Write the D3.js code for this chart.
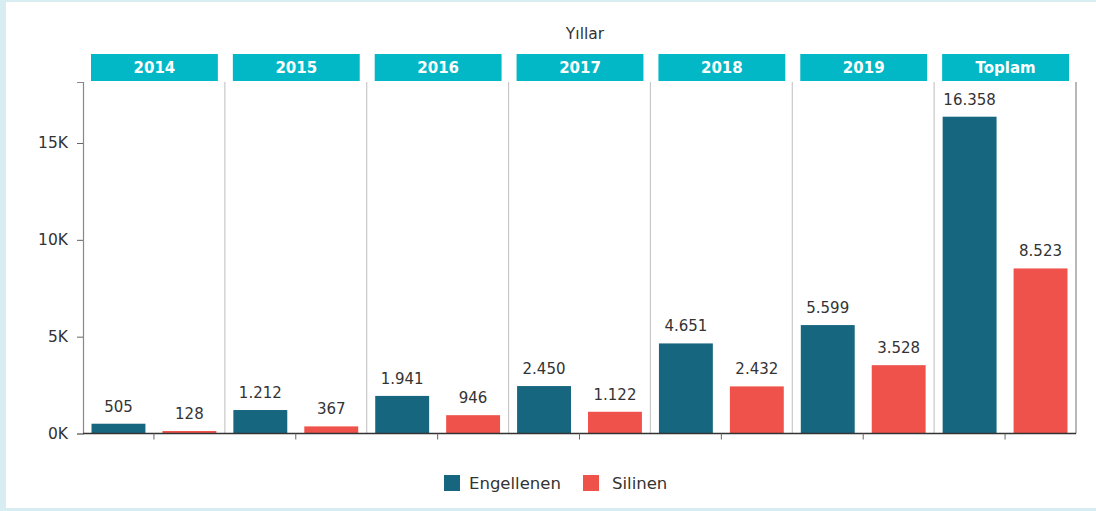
<!DOCTYPE html>
<html>
<head>
<meta charset="utf-8">
<script src="https://cdn.jsdelivr.net/npm/d3@7"></script>
<style>
  html, body { margin: 0; padding: 0; background: #fff; }
  body { width: 1096px; height: 511px; overflow: hidden; }
  text { font-family: "DejaVu Sans", sans-serif; }
</style>
</head>
<body>
<div id="chart"></div>
<script>
const years = ["2014", "2015", "2016", "2017", "2018", "2019", "Toplam"];
const seriesNames = ["Engellenen", "Silinen"];
const engellenen = [505, 1212, 1941, 2450, 4651, 5599, 16358];
const silinen = [128, 367, 946, 1122, 2432, 3528, 8523];
const yTicks = [0, 5000, 10000, 15000];
const colors = ["#176680", "#ef524b"];

const width = 1096, height = 511;
const margin = { top: 82, left: 83, right: 20, bottom: 78 };
const plotRight = 1076, plotBottom = 433.5;

const svg = d3.select("#chart").append("svg")
    .attr("width", width)
    .attr("height", height);

// frame
svg.append("rect").attr("x", 0).attr("y", 0).attr("width", width).attr("height", height).attr("fill", "#d7edf1");
svg.append("rect").attr("x", 6).attr("y", 2).attr("width", width - 6).attr("height", 506).attr("fill", "#fff");

const x = d3.scaleBand()
    .domain(years)
    .range([margin.left, plotRight])
    .paddingInner(0);

const xs = d3.scaleBand()
    .domain(seriesNames)
    .range([0, x.bandwidth()])
    .paddingInner(0.24)
    .paddingOuter(0.12);

const y = d3.scaleLinear()
    .domain([0, 18150])
    .range([plotBottom, margin.top]);

// title
svg.append("text")
    .attr("x", 585)
    .attr("y", 39)
    .attr("text-anchor", "middle")
    .attr("font-size", 15.5)
    .attr("fill", "#333")
    .text("Yıllar");

// facet headers
const heads = svg.selectAll(".head").data(years).enter().append("g");
heads.append("rect")
    .attr("x", d => x(d) + 8)
    .attr("y", 54)
    .attr("width", x.bandwidth() - 15)
    .attr("height", 27)
    .attr("fill", "#03b8c6");
heads.append("text")
    .attr("x", d => x(d) + 8 + (x.bandwidth() - 15) / 2)
    .attr("y", 73)
    .attr("text-anchor", "middle")
    .attr("font-size", 15)
    .attr("font-weight", "bold")
    .attr("fill", "#fff")
    .text(d => d);

// panel separators
svg.selectAll(".sep").data(years.slice(1)).enter().append("line")
    .attr("x1", d => x(d)).attr("x2", d => x(d))
    .attr("y1", margin.top).attr("y2", plotBottom)
    .attr("stroke", "#c8c8c8").attr("stroke-width", 1.2);

svg.append("line")
    .attr("x1", plotRight).attr("x2", plotRight)
    .attr("y1", margin.top).attr("y2", plotBottom)
    .attr("stroke", "#888").attr("stroke-width", 1.2);

// bars
const rows = years.map((yr, i) => [
    { year: yr, key: seriesNames[0], value: engellenen[i] },
    { year: yr, key: seriesNames[1], value: silinen[i] }
]).flat();

svg.selectAll(".bar").data(rows).enter().append("rect")
    .attr("x", d => x(d.year) + xs(d.key))
    .attr("y", d => y(d.value))
    .attr("width", xs.bandwidth())
    .attr("height", d => y(0) - y(d.value))
    .attr("fill", (d, i) => colors[seriesNames.indexOf(d.key)]);

svg.selectAll(".val").data(rows).enter().append("text")
    .attr("x", d => x(d.year) + xs(d.key) + xs.bandwidth() / 2)
    .attr("y", d => y(d.value) - 12)
    .attr("text-anchor", "middle")
    .attr("font-size", 15)
    .attr("fill", "#333")
    .text(d => d3.format(",")(d.value).replace(/,/g, "."));

// y axis
const yAxis = svg.append("g")
    .attr("transform", `translate(${margin.left},0)`)
    .call(d3.axisLeft(y).tickValues(yTicks).tickSize(6).tickPadding(9)
        .tickFormat(d => (d / 1000) + "K"));
yAxis.select(".domain").attr("stroke", "#888").attr("stroke-width", 1.2);
yAxis.selectAll(".tick line").attr("stroke", "#666");
yAxis.selectAll(".tick text").attr("font-size", 15.5).attr("fill", "#333")
    .attr("font-family", "DejaVu Sans, sans-serif");

// x axis
const xAxis = svg.append("g")
    .attr("transform", `translate(0,${plotBottom})`)
    .call(d3.axisBottom(x).tickSize(6).tickFormat(""));
xAxis.select(".domain").attr("stroke", "#333").attr("stroke-width", 1.5)
    .attr("d", `M${margin.left},0H${plotRight}`);
xAxis.selectAll(".tick line").attr("stroke", "#666");

// legend
const legendX = [444, 583];
const lg = svg.selectAll(".lg").data(seriesNames).enter().append("g")
    .attr("transform", (d, i) => `translate(${legendX[i]},475)`);
lg.append("rect").attr("width", 16).attr("height", 16).attr("fill", (d, i) => colors[i]);
lg.append("text")
    .attr("x", (d, i) => i === 0 ? 25 : 29)
    .attr("y", 14)
    .attr("font-size", 16.5)
    .attr("fill", "#333")
    .text(d => d);
</script>
</body>
</html>
